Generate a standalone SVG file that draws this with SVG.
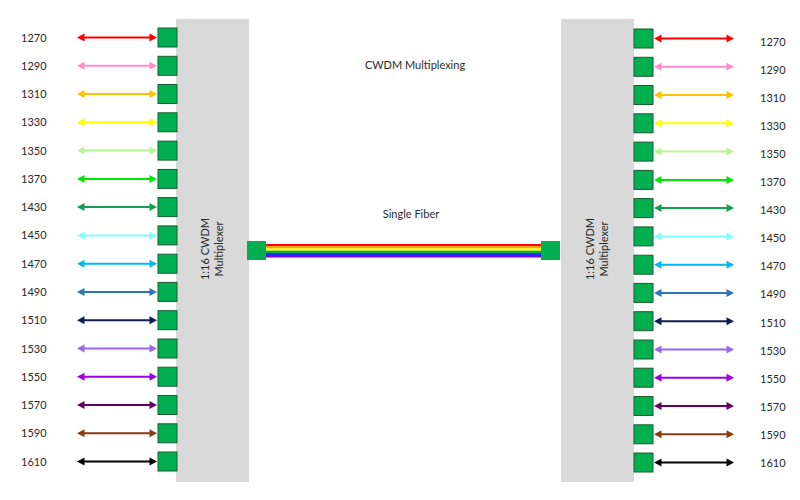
<svg xmlns="http://www.w3.org/2000/svg" xmlns:xlink="http://www.w3.org/1999/xlink" width="800" height="500" viewBox="0 0 800 500">
<style>
.mux{fill:#d9d9d9}
.port{fill:#00b050;stroke:#1d5a32;stroke-width:1}
.conn{fill:#00b050}
.lbl{font-family:Lato,"Liberation Sans",sans-serif;font-size:11px;fill:#2a2a2a}
.mt{font-family:Lato,"Liberation Sans",sans-serif;font-size:11px;fill:#2a2a2a;text-anchor:middle}
</style>
<defs>
<g id="arr">
<line x1="5" y1="0" x2="75" y2="0" stroke="currentColor" stroke-width="2"/>
<polygon points="0,0 7.5,-4 7.5,4" fill="currentColor"/>
<polygon points="80,0 72.5,-4 72.5,4" fill="currentColor"/>
</g>
</defs>
<rect width="800" height="500" fill="#ffffff"/>

<g id="mux-left">
<rect class="mux" x="176" y="19" width="73" height="463"/>
<text class="mt" transform="translate(209,249) rotate(-90)">1:16 CWDM</text>
<text class="mt" transform="translate(223,249) rotate(-90)">Multiplexer</text>
</g>
<g id="mux-right">
<rect class="mux" x="561" y="19" width="73" height="463"/>
<text class="mt" transform="translate(594,249) rotate(-90)">1:16 CWDM</text>
<text class="mt" transform="translate(608,249) rotate(-90)">Multiplexer</text>
</g>

<g id="title">
<text class="mt" x="415" y="68.5">CWDM Multiplexing</text>
<text class="mt" x="411" y="217.5">Single Fiber</text>
</g>

<g id="fiber">
<rect x="266" y="244" width="275" height="2.3" fill="#ff0000"/>
<rect x="266" y="246.2" width="275" height="2.3" fill="#ffa500"/>
<rect x="266" y="248.4" width="275" height="2.3" fill="#ffff00"/>
<rect x="266" y="250.6" width="275" height="2.3" fill="#00c000"/>
<rect x="266" y="252.8" width="275" height="2.3" fill="#1030ff"/>
<rect x="266" y="255" width="275" height="2.5" fill="#7a00e0"/>
<rect id="conn-left" class="conn" x="247" y="241" width="19" height="19"/>
<rect id="conn-right" class="conn" x="541" y="241" width="19" height="19"/>
</g>

<g id="ports-left">
<rect class="port" x="158" y="28" width="19" height="19"/>
<rect class="port" x="158" y="56.3" width="19" height="19"/>
<rect class="port" x="158" y="84.5" width="19" height="19"/>
<rect class="port" x="158" y="112.8" width="19" height="19"/>
<rect class="port" x="158" y="141.1" width="19" height="19"/>
<rect class="port" x="158" y="169.4" width="19" height="19"/>
<rect class="port" x="158" y="197.6" width="19" height="19"/>
<rect class="port" x="158" y="225.9" width="19" height="19"/>
<rect class="port" x="158" y="254.2" width="19" height="19"/>
<rect class="port" x="158" y="282.4" width="19" height="19"/>
<rect class="port" x="158" y="310.7" width="19" height="19"/>
<rect class="port" x="158" y="339" width="19" height="19"/>
<rect class="port" x="158" y="367.2" width="19" height="19"/>
<rect class="port" x="158" y="395.5" width="19" height="19"/>
<rect class="port" x="158" y="423.8" width="19" height="19"/>
<rect class="port" x="158" y="452" width="19" height="19"/>
</g>
<g id="ports-right">
<rect class="port" x="634" y="29" width="19" height="19"/>
<rect class="port" x="634" y="57.3" width="19" height="19"/>
<rect class="port" x="634" y="85.5" width="19" height="19"/>
<rect class="port" x="634" y="113.8" width="19" height="19"/>
<rect class="port" x="634" y="142.1" width="19" height="19"/>
<rect class="port" x="634" y="170.4" width="19" height="19"/>
<rect class="port" x="634" y="198.6" width="19" height="19"/>
<rect class="port" x="634" y="226.9" width="19" height="19"/>
<rect class="port" x="634" y="255.2" width="19" height="19"/>
<rect class="port" x="634" y="283.4" width="19" height="19"/>
<rect class="port" x="634" y="311.7" width="19" height="19"/>
<rect class="port" x="634" y="340" width="19" height="19"/>
<rect class="port" x="634" y="368.2" width="19" height="19"/>
<rect class="port" x="634" y="396.5" width="19" height="19"/>
<rect class="port" x="634" y="424.8" width="19" height="19"/>
<rect class="port" x="634" y="453" width="19" height="19"/>
</g>

<g id="connectors">
<use xlink:href="#arr" transform="translate(77,37.5)" color="#ff0000"/>
<use xlink:href="#arr" transform="translate(77,65.8)" color="#ff8ccc"/>
<use xlink:href="#arr" transform="translate(77,94)" color="#ffc000"/>
<use xlink:href="#arr" transform="translate(77,122.3)" color="#ffff00"/>
<use xlink:href="#arr" transform="translate(77,150.6)" color="#b8f590"/>
<use xlink:href="#arr" transform="translate(77,178.9)" color="#00e600"/>
<use xlink:href="#arr" transform="translate(77,207.1)" color="#12a04c"/>
<use xlink:href="#arr" transform="translate(77,235.4)" color="#80ffff"/>
<use xlink:href="#arr" transform="translate(77,263.7)" color="#00b8f0"/>
<use xlink:href="#arr" transform="translate(77,291.9)" color="#2e75b6"/>
<use xlink:href="#arr" transform="translate(77,320.2)" color="#0c1f55"/>
<use xlink:href="#arr" transform="translate(77,348.5)" color="#9a66ee"/>
<use xlink:href="#arr" transform="translate(77,376.7)" color="#9b00e6"/>
<use xlink:href="#arr" transform="translate(77,405)" color="#660066"/>
<use xlink:href="#arr" transform="translate(77,433.3)" color="#8b3a0e"/>
<use xlink:href="#arr" transform="translate(77,461.5)" color="#000000"/>

<use xlink:href="#arr" transform="translate(654,38.5)" color="#ff0000"/>
<use xlink:href="#arr" transform="translate(654,66.8)" color="#ff8ccc"/>
<use xlink:href="#arr" transform="translate(654,95)" color="#ffc000"/>
<use xlink:href="#arr" transform="translate(654,123.3)" color="#ffff00"/>
<use xlink:href="#arr" transform="translate(654,151.6)" color="#b8f590"/>
<use xlink:href="#arr" transform="translate(654,179.9)" color="#00e600"/>
<use xlink:href="#arr" transform="translate(654,208.1)" color="#12a04c"/>
<use xlink:href="#arr" transform="translate(654,236.4)" color="#80ffff"/>
<use xlink:href="#arr" transform="translate(654,264.7)" color="#00b8f0"/>
<use xlink:href="#arr" transform="translate(654,292.9)" color="#2e75b6"/>
<use xlink:href="#arr" transform="translate(654,321.2)" color="#0c1f55"/>
<use xlink:href="#arr" transform="translate(654,349.5)" color="#9a66ee"/>
<use xlink:href="#arr" transform="translate(654,377.7)" color="#9b00e6"/>
<use xlink:href="#arr" transform="translate(654,406)" color="#660066"/>
<use xlink:href="#arr" transform="translate(654,434.3)" color="#8b3a0e"/>
<use xlink:href="#arr" transform="translate(654,462.5)" color="#000000"/>
</g>

<g id="labels-left">
<text class="lbl" x="21" y="41.5">1270</text>
<text class="lbl" x="21" y="69.8">1290</text>
<text class="lbl" x="21" y="98">1310</text>
<text class="lbl" x="21" y="126.3">1330</text>
<text class="lbl" x="21" y="154.6">1350</text>
<text class="lbl" x="21" y="182.9">1370</text>
<text class="lbl" x="21" y="211.1">1430</text>
<text class="lbl" x="21" y="239.4">1450</text>
<text class="lbl" x="21" y="267.7">1470</text>
<text class="lbl" x="21" y="295.9">1490</text>
<text class="lbl" x="21" y="324.2">1510</text>
<text class="lbl" x="21" y="352.5">1530</text>
<text class="lbl" x="21" y="380.7">1550</text>
<text class="lbl" x="21" y="409">1570</text>
<text class="lbl" x="21" y="437.3">1590</text>
<text class="lbl" x="21" y="465.5">1610</text>
</g>
<g id="labels-right">
<text class="lbl" x="760" y="45.5">1270</text>
<text class="lbl" x="760" y="73.6">1290</text>
<text class="lbl" x="760" y="101.7">1310</text>
<text class="lbl" x="760" y="129.8">1330</text>
<text class="lbl" x="760" y="157.9">1350</text>
<text class="lbl" x="760" y="186">1370</text>
<text class="lbl" x="760" y="214.1">1430</text>
<text class="lbl" x="760" y="242.2">1450</text>
<text class="lbl" x="760" y="270.3">1470</text>
<text class="lbl" x="760" y="298.4">1490</text>
<text class="lbl" x="760" y="326.5">1510</text>
<text class="lbl" x="760" y="354.6">1530</text>
<text class="lbl" x="760" y="382.7">1550</text>
<text class="lbl" x="760" y="410.8">1570</text>
<text class="lbl" x="760" y="438.9">1590</text>
<text class="lbl" x="760" y="467">1610</text>
</g>
</svg>
